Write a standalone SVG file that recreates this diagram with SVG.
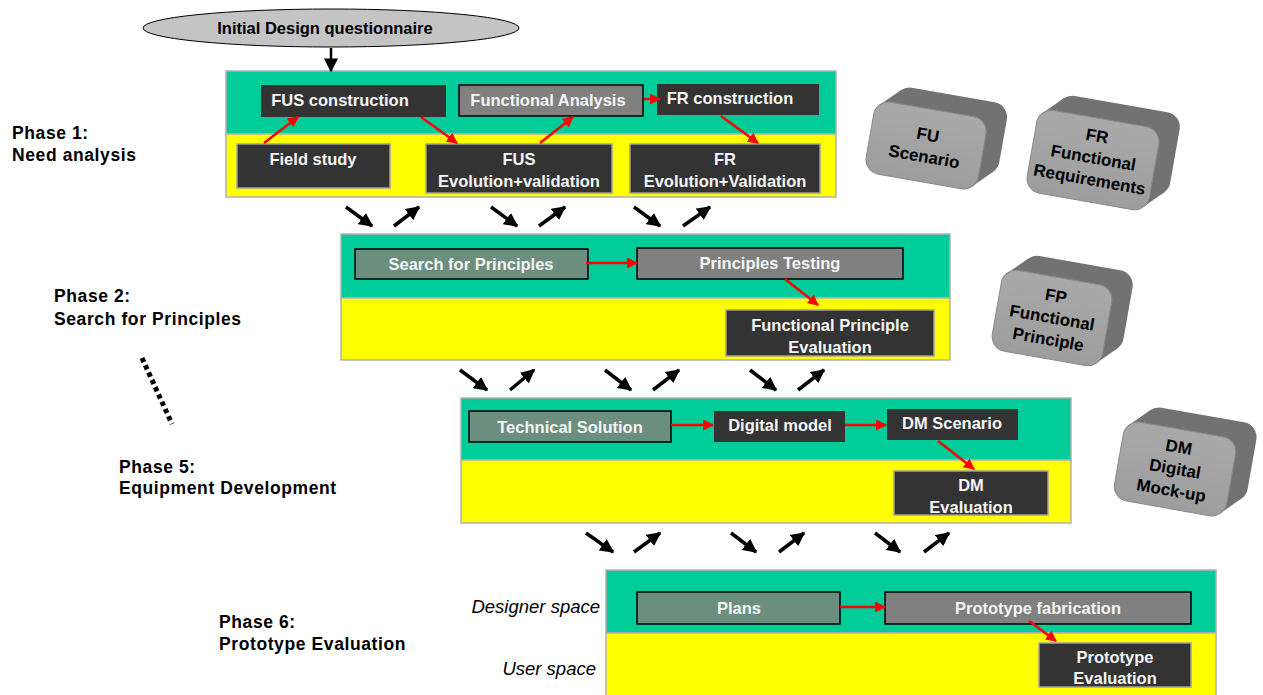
<svg xmlns="http://www.w3.org/2000/svg" width="1263" height="695" viewBox="0 0 1263 695">
<defs>
<style>
text{font-family:"Liberation Sans",Arial,sans-serif;font-weight:bold}
.green{fill:#00CC99;stroke:#b0b0b0;stroke-width:1.5}
.yellow{fill:#FFFF00;stroke:#b0b0b0;stroke-width:1.5}
.dark{fill:#333333;stroke:#a0a0a0;stroke-width:1.5}
.darkg{fill:#333333}
.sage{fill:#6B8E7F;stroke:#000;stroke-width:1.5}
.gray{fill:#808080;stroke:#000;stroke-width:1.5}
.bt{fill:#f4f4f4;font-size:16.5px;text-anchor:middle}
.ph{fill:#000;font-size:17.5px;letter-spacing:0.6px}
.it{font-weight:normal;font-style:italic;font-size:18.5px;fill:#000;text-anchor:end}
.red{stroke:#FF0000;stroke-width:2.5;fill:none;marker-end:url(#rh)}
.blk{stroke:#000;stroke-width:3.5;fill:none;marker-end:url(#bh)}
.ext{fill:#727272}
.front{fill:url(#frontg);stroke:#8a8a8a;stroke-width:1}
.bx{fill:#000;font-size:17px;text-anchor:middle;dominant-baseline:central}
</style>
<marker id="rh" viewBox="0 0 10 10" refX="9" refY="5" markerWidth="11" markerHeight="11" markerUnits="userSpaceOnUse" orient="auto"><path d="M0,0L10,5L0,10z" fill="#FF0000"/></marker>
<marker id="bh" viewBox="0 0 10 10" refX="9" refY="5" markerWidth="14" markerHeight="14" markerUnits="userSpaceOnUse" orient="auto"><path d="M0,0L10,5L0,10z" fill="#000"/></marker>
<linearGradient id="frontg" x1="0" y1="0" x2="0" y2="1"><stop offset="0" stop-color="#a9a9a9"/><stop offset="1" stop-color="#9d9d9d"/></linearGradient>
</defs>
<rect width="1263" height="695" fill="#fff"/>

<g id="questionnaire">
<ellipse cx="331" cy="28" rx="188" ry="19" fill="#c4c4c4" stroke="#000" stroke-width="1"/>
<text x="325" y="34" font-size="16.5" fill="#000" text-anchor="middle">Initial Design questionnaire</text>
</g>

<g id="phase-labels">
<text class="ph" x="12" y="139">Phase 1:</text>
<text class="ph" x="12" y="161">Need analysis</text>
<text class="ph" x="54" y="302">Phase 2:</text>
<text class="ph" x="54" y="325">Search for Principles</text>
<text class="ph" x="119" y="473">Phase 5:</text>
<text class="ph" x="119" y="494">Equipment Development</text>
<text class="ph" x="219" y="628">Phase 6:</text>
<text class="ph" x="219" y="650">Prototype Evaluation</text>
<line x1="142" y1="358" x2="172" y2="424" stroke="#000" stroke-width="5" stroke-dasharray="4.5 3.5"/>
<text class="it" x="600" y="613">Designer space</text>
<text class="it" x="596" y="675">User space</text>
</g>

<g id="phase1">
<rect class="green" x="226" y="71" width="610" height="63"/>
<rect class="yellow" x="226" y="134" width="610" height="63"/>
</g>
<g id="fus-construction"><rect class="darkg" x="261" y="85" width="185" height="32"/><text class="bt" x="340" y="106">FUS construction</text></g>
<g id="functional-analysis"><rect class="gray" x="459" y="85" width="184" height="31"/><text class="bt" x="548" y="106">Functional Analysis</text></g>
<g id="fr-construction"><rect class="darkg" x="657" y="84" width="162" height="31"/><text class="bt" x="730" y="104">FR construction</text></g>
<g id="field-study"><rect class="dark" x="237" y="144" width="153" height="44"/><text class="bt" x="313" y="165">Field study</text></g>
<g id="fus-evolution"><rect class="dark" x="426" y="144" width="186" height="49"/><text class="bt" x="519" y="165">FUS</text><text class="bt" x="519" y="187">Evolution+validation</text></g>
<g id="fr-evolution"><rect class="dark" x="630" y="144" width="190" height="49"/><text class="bt" x="725" y="165">FR</text><text class="bt" x="725" y="187">Evolution+Validation</text></g>

<g id="phase2">
<rect class="green" x="341" y="234" width="609" height="64"/>
<rect class="yellow" x="341" y="298" width="609" height="62"/>
</g>
<g id="search-principles"><rect class="sage" x="355" y="249" width="233" height="30"/><text class="bt" x="471" y="270">Search for Principles</text></g>
<g id="principles-testing"><rect class="gray" x="637" y="248" width="266" height="31"/><text class="bt" x="770" y="269">Principles Testing</text></g>
<g id="fp-evaluation"><rect class="dark" x="726" y="310" width="208" height="46"/><text class="bt" x="830" y="331">Functional Principle</text><text class="bt" x="830" y="353">Evaluation</text></g>

<g id="phase5">
<rect class="green" x="461" y="398" width="610" height="62"/>
<rect class="yellow" x="461" y="460" width="610" height="63"/>
</g>
<g id="technical-solution"><rect class="sage" x="469" y="411" width="202" height="31"/><text class="bt" x="570" y="433">Technical Solution</text></g>
<g id="digital-model"><rect class="darkg" x="714" y="411" width="131" height="31"/><text class="bt" x="780" y="431">Digital model</text></g>
<g id="dm-scenario"><rect class="darkg" x="887" y="409" width="131" height="31"/><text class="bt" x="952" y="429">DM Scenario</text></g>
<g id="dm-evaluation"><rect class="dark" x="894" y="471" width="154" height="44"/><text class="bt" x="971" y="491">DM</text><text class="bt" x="971" y="513">Evaluation</text></g>

<g id="phase6">
<rect class="green" x="606" y="570" width="610" height="63"/>
<rect class="yellow" x="606" y="633" width="610" height="63"/>
</g>
<g id="plans"><rect class="sage" x="637" y="592" width="203" height="32"/><text class="bt" x="739" y="614">Plans</text></g>
<g id="prototype-fabrication"><rect class="gray" x="885" y="592" width="306" height="32"/><text class="bt" x="1038" y="614">Prototype fabrication</text></g>
<g id="prototype-evaluation"><rect class="dark" x="1039" y="643" width="152" height="44"/><text class="bt" x="1115" y="663">Prototype</text><text class="bt" x="1115" y="684">Evaluation</text></g>

<g id="fu-scenario" transform="translate(926,146) rotate(10)">
<rect class="ext" x="-39" y="-55" width="114" height="73" rx="15"/>
<polygon class="ext" points="-52.6,-32.6 -34.6,-50.6 70.6,13.6 52.6,31.6"/>
<rect class="front" x="-57" y="-37" width="114" height="73" rx="15"/>
<text class="bx" x="0" y="-11">FU</text><text class="bx" x="0" y="11">Scenario</text>
</g>
<g id="fr-requirements" transform="translate(1093,160) rotate(10)">
<rect class="ext" x="-44" y="-60" width="124" height="84" rx="15"/>
<polygon class="ext" points="-57.6,-37.6 -39.6,-55.6 75.6,19.6 57.6,37.6"/>
<rect class="front" x="-62" y="-42" width="124" height="84" rx="15"/>
<text class="bx" x="0" y="-24">FR</text><text class="bx" x="0" y="-2">Functional</text><text class="bx" x="0" y="20">Requirements</text>
</g>
<g id="fp-principle" transform="translate(1052,318) rotate(10)">
<rect class="ext" x="-38" y="-59" width="112" height="82" rx="15"/>
<polygon class="ext" points="-51.6,-36.6 -33.6,-54.6 69.6,18.6 51.6,36.6"/>
<rect class="front" x="-56" y="-41" width="112" height="82" rx="15"/>
<text class="bx" x="0" y="-22">FP</text><text class="bx" x="0" y="0">Functional</text><text class="bx" x="0" y="22">Principle</text>
</g>
<g id="dm-mockup" transform="translate(1175,469) rotate(10)">
<rect class="ext" x="-39" y="-58" width="114" height="80" rx="15"/>
<polygon class="ext" points="-52.6,-35.6 -34.6,-53.6 70.6,17.6 52.6,35.6"/>
<rect class="front" x="-57" y="-40" width="114" height="80" rx="15"/>
<text class="bx" x="0" y="-22">DM</text><text class="bx" x="0" y="0">Digital</text><text class="bx" x="0" y="22">Mock-up</text>
</g>

<g id="connectors">
<line x1="331" y1="48" x2="331" y2="71" stroke="#000" stroke-width="2.5" marker-end="url(#bh)"/>
<line class="red" x1="264" y1="143" x2="298" y2="117"/>
<line class="red" x1="421" y1="117" x2="457" y2="143"/>
<line class="red" x1="540" y1="143" x2="573" y2="117"/>
<line class="red" x1="644" y1="99" x2="660" y2="99"/>
<line class="red" x1="721" y1="116" x2="758" y2="143"/>
<line class="red" x1="586" y1="263" x2="637" y2="263"/>
<line class="red" x1="785" y1="279" x2="818" y2="305"/>
<line class="red" x1="671" y1="425" x2="713" y2="425"/>
<line class="red" x1="845" y1="425" x2="886" y2="425"/>
<line class="red" x1="938" y1="441" x2="974" y2="469"/>
<line class="red" x1="840" y1="607" x2="885" y2="607"/>
<line class="red" x1="1029" y1="621" x2="1056" y2="641"/>

<line class="blk" x1="346" y1="207" x2="372" y2="226"/>
<line class="blk" x1="394" y1="226" x2="419" y2="207"/>
<line class="blk" x1="491" y1="207" x2="517" y2="226"/>
<line class="blk" x1="539" y1="226" x2="565" y2="207"/>
<line class="blk" x1="634" y1="207" x2="660" y2="226"/>
<line class="blk" x1="683" y1="226" x2="710" y2="207"/>

<line class="blk" x1="460" y1="370" x2="487" y2="390"/>
<line class="blk" x1="510" y1="390" x2="534" y2="370"/>
<line class="blk" x1="605" y1="370" x2="631" y2="390"/>
<line class="blk" x1="653" y1="390" x2="679" y2="370"/>
<line class="blk" x1="750" y1="370" x2="776" y2="390"/>
<line class="blk" x1="798" y1="390" x2="824" y2="370"/>

<line class="blk" x1="586" y1="533" x2="613" y2="552"/>
<line class="blk" x1="634" y1="552" x2="660" y2="533"/>
<line class="blk" x1="731" y1="533" x2="756" y2="552"/>
<line class="blk" x1="779" y1="552" x2="804" y2="533"/>
<line class="blk" x1="875" y1="533" x2="900" y2="552"/>
<line class="blk" x1="924" y1="552" x2="949" y2="533"/>
</g>
</svg>
